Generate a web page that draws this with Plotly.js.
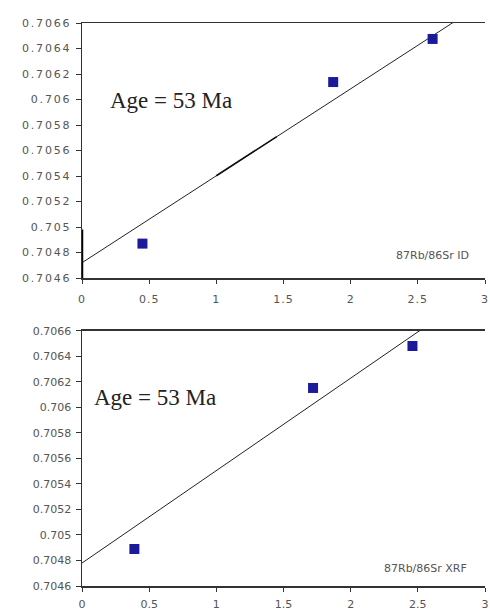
<!DOCTYPE html>
<html><head><meta charset="utf-8">
<script src="https://cdn.plot.ly/plotly-3.0.1.min.js"></script>
<style>html,body{margin:0;padding:0;background:#fff}
.ytick text{letter-spacing:1.8px}
.xtick text{letter-spacing:1px}
</style>
</head><body><div id="chart" style="width:490px;height:612px"></div>
<script>
// Data
const idRbSr = [0.45, 1.87, 2.61];
const idSrSr = [0.70487, 0.706137, 0.706475];
const idFitX = [0, 3];
const idFitY = [0.70472, 0.706766];
const idFitHeavyX = [1.0, 1.45];
const idFitHeavyY = [0.705402, 0.705709];
const idInterceptBarX = [0, 0];
const idInterceptBarY = [0.7046, 0.70498];

const xrfRbSr = [0.39, 1.72, 2.46];
const xrfSrSr = [0.70489, 0.706153, 0.706482];
const xrfFitX = [0, 3];
const xrfFitY = [0.70478, 0.706955];

const yTickVals = [0.7046,0.7048,0.705,0.7052,0.7054,0.7056,0.7058,0.706,0.7062,0.7064,0.7066];
const yTickText = ["0.7046","0.7048","0.705","0.7052","0.7054","0.7056","0.7058","0.706","0.7062","0.7064","0.7066"];
const xTickVals = [0,0.5,1,1.5,2,2.5,3];
const xTickText = ["0","0.5","1","1.5","2","2.5","3"];

const ageLabel = "Age = 53 Ma";
const idLabel = "87Rb/86Sr ID";
const xrfLabel = "87Rb/86Sr XRF";

const markerStyle = {symbol:'square', size:10, color:'#1a1a9a'};
const lineStyle = {color:'#222', width:1};

const traces = [
  {x:idFitX, y:idFitY, mode:'lines', line:lineStyle, xaxis:'x', yaxis:'y', hoverinfo:'skip'},
  {x:idFitHeavyX, y:idFitHeavyY, mode:'lines', line:{color:'#111', width:1.6}, xaxis:'x', yaxis:'y'},
  {x:idInterceptBarX, y:idInterceptBarY, mode:'lines', line:{color:'#000', width:2.5}, xaxis:'x', yaxis:'y', cliponaxis:false},
  {x:idRbSr, y:idSrSr, mode:'markers', marker:markerStyle, xaxis:'x', yaxis:'y'},
  {x:xrfFitX, y:xrfFitY, mode:'lines', line:lineStyle, xaxis:'x2', yaxis:'y2', hoverinfo:'skip'},
  {x:xrfRbSr, y:xrfSrSr, mode:'markers', marker:markerStyle, xaxis:'x2', yaxis:'y2'}
];

const tickFont = {family:'DejaVu Sans', size:11, color:'#555'};
function xax(anchor, standoff){
  return {range:[0,3], anchor:anchor, tickvals:xTickVals, ticktext:xTickText, ticks:'outside', ticklen:4,
    tickcolor:'#333', showline:true, linecolor:'#333', linewidth:1.5, mirror:true, showgrid:false,
    zeroline:false, tickfont:tickFont, ticklabelstandoff:standoff};
}
function yax(anchor, domain){
  return {range:[0.70459999,0.70660001], domain:domain, anchor:anchor, tickvals:yTickVals, ticktext:yTickText,
    ticks:'outside', ticklen:5, tickcolor:'#333', showline:true, linecolor:'#333', linewidth:1.5, mirror:false,
    showgrid:false, zeroline:false, tickfont:tickFont, ticklabelstandoff:2};
}

const layout = {
  width:490, height:612,
  margin:{l:82, r:5, t:23, b:26},
  paper_bgcolor:'#fff', plot_bgcolor:'#fff',
  showlegend:false,
  xaxis: xax('y', 6),
  yaxis: yax('x', [0.547,1]),
  xaxis2: xax('y2', 3),
  yaxis2: yax('x2', [0,0.453]),
  annotations:[
    {text:ageLabel, xref:'x domain', yref:'y domain', x:0.065, y:0.698, xanchor:'left', yanchor:'middle',
     showarrow:false, font:{family:'Liberation Serif', size:23, color:'#222'}},
    {text:ageLabel, xref:'x2 domain', yref:'y2 domain', x:0.025, y:0.741, xanchor:'left', yanchor:'middle',
     showarrow:false, font:{family:'Liberation Serif', size:23, color:'#222'}},
    {text:idLabel, xref:'x domain', yref:'y domain', x:0.966, y:0.09, xanchor:'right', yanchor:'middle',
     showarrow:false, font:{family:'DejaVu Sans', size:11, color:'#555'}},
    {text:xrfLabel, xref:'x2 domain', yref:'y2 domain', x:0.961, y:0.07, xanchor:'right', yanchor:'middle',
     showarrow:false, font:{family:'DejaVu Sans', size:11, color:'#555'}}
  ]
};
Plotly.newPlot('chart', traces, layout, {staticPlot:true, displayModeBar:false});
</script></body></html>
